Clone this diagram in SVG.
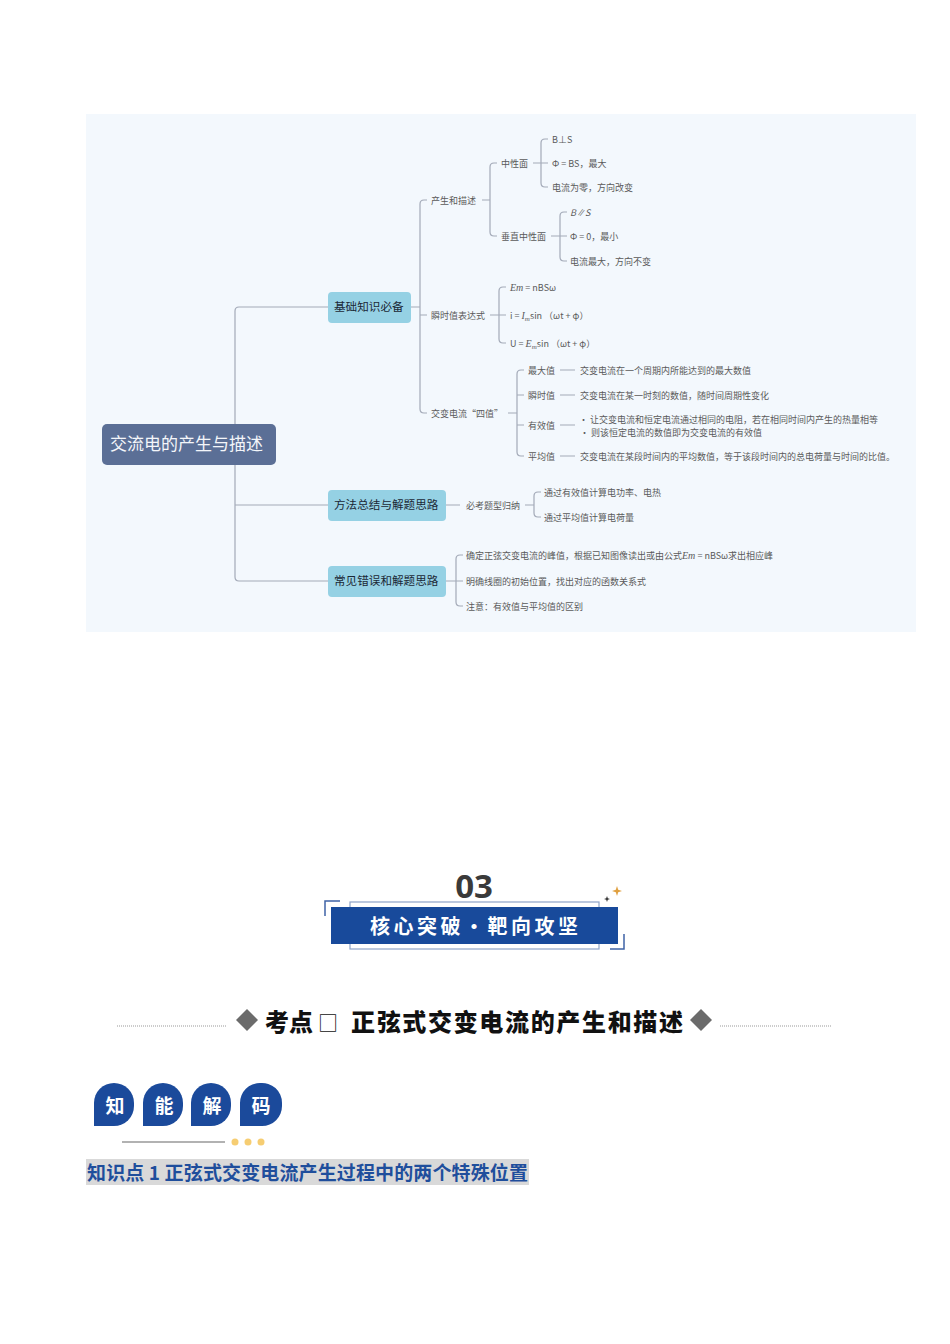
<svg xmlns="http://www.w3.org/2000/svg" width="950" height="1344" viewBox="0 0 950 1344">
<style>
.t{font-family:"Noto Sans CJK SC","Noto Sans",sans-serif;font-size:9px;fill:#5a5a5a}
.m{font-family:"Liberation Serif",serif;font-style:italic}
.ln{fill:none;stroke:#a3aab8;stroke-width:1.2}
.nd{fill:#95d1e4}
.nt{font-family:"Noto Sans CJK SC","Noto Sans",sans-serif;font-size:11.6px;fill:#1b2836}
.bd{fill:#1b4a9b}
.bt{font-family:"Noto Sans CJK SC",sans-serif;font-size:19px;font-weight:700;fill:#fff;text-anchor:middle}
</style>
<rect x="0" y="0" width="950" height="1344" fill="#fff"/>
<rect x="86" y="114" width="830" height="518" fill="#f3f8fd"/>

<g id="connectors">
<path class="ln" d="M328 307H239Q235 307 235 311V577Q235 581 239 581H328M235 505H328"/>
<path class="ln" d="M411 307H420M427 200H424Q420 200 420 204V409Q420 413 424 413H427M420 315H427"/>
<path class="ln" d="M482 200H490M497 163H494Q490 163 490 167V232Q490 236 494 236H497"/>
<path class="ln" d="M533 163H541M548 139H545Q541 139 541 143V183Q541 187 545 187H548M541 163H548"/>
<path class="ln" d="M551 236H560M567 212H564Q560 212 560 216V257Q560 261 564 261H567M560 236H567"/>
<path class="ln" d="M490 315H499M506 287H503Q499 287 499 291V339Q499 343 503 343H506M499 315H506"/>
<path class="ln" d="M508 413H517M524 370H521Q517 370 517 374V452Q517 456 521 456H524M517 395H524M517 425H524"/>
<path class="ln" d="M560 370H575M560 395H575M560 425H575M560 456H575"/>
<path class="ln" d="M446 505H460M525 505H534M541 492H538Q534 492 534 496V513Q534 517 538 517H541"/>
<path class="ln" d="M446 581H456M463 555H460Q456 555 456 559V602Q456 606 460 606H463M456 581H463"/>
</g>

<g id="root">
<rect x="102" y="424" width="174" height="41" rx="5" fill="#5b6f96"/>
<text x="110" y="450" font-family="Noto Sans CJK SC,sans-serif" font-size="17" fill="#f4f6fa">交流电的产生与描述</text>
</g>
<g id="n-jichu">
<rect class="nd" x="328" y="292" width="83" height="31" rx="4"/>
<text class="nt" x="334" y="311">基础知识必备</text>
</g>
<g id="n-fangfa">
<rect class="nd" x="328" y="490" width="118" height="31" rx="4"/>
<text class="nt" x="334" y="509">方法总结与解题思路</text>
</g>
<g id="n-cuowu">
<rect class="nd" x="328" y="566" width="118" height="31" rx="4"/>
<text class="nt" x="334" y="585">常见错误和解题思路</text>
</g>

<g id="n-chansheng"><text class="t" x="431" y="204">产生和描述</text></g>
<g id="n-zhongxing"><text class="t" x="501" y="167">中性面</text></g>
<g id="n-bps"><text class="t" x="552" y="143">B⊥S</text></g>
<g id="n-phibs"><text class="t" x="552" y="167">Φ = BS，最大</text></g>
<g id="n-dlwl"><text class="t" x="552" y="191">电流为零，方向改变</text></g>
<g id="n-chuizhi"><text class="t" x="501" y="240">垂直中性面</text></g>
<g id="n-bs"><text class="t" x="570" y="216" font-style="italic">B∥S</text></g>
<g id="n-phi0"><text class="t" x="570" y="240">Φ = 0，最小</text></g>
<g id="n-dlzd"><text class="t" x="570" y="265">电流最大，方向不变</text></g>

<g id="n-shunshi"><text class="t" x="431" y="319">瞬时值表达式</text></g>
<g id="n-em"><text class="t" x="510" y="291"><tspan class="m" font-size="10">Em</tspan> = nBSω</text></g>
<g id="n-i"><text class="t" x="510" y="319">i = <tspan class="m" font-size="10">I</tspan><tspan class="m" font-size="7" dy="2">m</tspan><tspan dy="-2">sin （ωt + φ）</tspan></text></g>
<g id="n-u"><text class="t" x="510" y="347">U = <tspan class="m" font-size="10">E</tspan><tspan class="m" font-size="7" dy="2">m</tspan><tspan dy="-2">sin  （ωt + φ）</tspan></text></g>

<g id="n-sizhi"><text class="t" x="431" y="417">交变电流“四值”</text></g>
<g id="n-zuida"><text class="t" x="528" y="374">最大值</text></g>
<g id="n-zuida-d"><text class="t" x="580" y="374">交变电流在一个周期内所能达到的最大数值</text></g>
<g id="n-shunshizhi"><text class="t" x="528" y="399">瞬时值</text></g>
<g id="n-shunshizhi-d"><text class="t" x="580" y="399">交变电流在某一时刻的数值，随时间周期性变化</text></g>
<g id="n-youxiao"><text class="t" x="528" y="429">有效值</text></g>
<g id="n-youxiao-d"><text class="t" x="579" y="423">·  让交变电流和恒定电流通过相同的电阻，若在相同时间内产生的热量相等</text><text class="t" x="580" y="436">· 则该恒定电流的数值即为交变电流的有效值</text></g>
<g id="n-pingjun"><text class="t" x="528" y="460">平均值</text></g>
<g id="n-pingjun-d"><text class="t" x="580" y="460">交变电流在某段时间内的平均数值，等于该段时间内的总电荷量与时间的比值。</text></g>

<g id="n-bikao"><text class="t" x="466" y="509">必考题型归纳</text></g>
<g id="n-bk1"><text class="t" x="544" y="496">通过有效值计算电功率、电热</text></g>
<g id="n-bk2"><text class="t" x="544" y="521">通过平均值计算电荷量</text></g>
<g id="n-cw1"><text class="t" x="466" y="559">确定正弦交变电流的峰值，根据已知图像读出或由公式<tspan class="m" font-size="10">Em</tspan> = nBSω求出相应峰</text></g>
<g id="n-cw2"><text class="t" x="466" y="585">明确线圈的初始位置，找出对应的函数关系式</text></g>
<g id="n-cw3"><text class="t" x="466" y="610">注意：有效值与平均值的区别</text></g>

<g id="banner">
<text x="474" y="898" text-anchor="middle" font-family="Open Sans,sans-serif" font-weight="700" font-size="33" fill="#3a3a3a">03</text>
<rect x="350" y="902" width="249" height="47" fill="none" stroke="#8ea3c9" stroke-width="1.2"/>
<rect x="331" y="907" width="287" height="37" fill="#184a9b"/>
<path d="M325 916V901H340M610 949H624V934" fill="none" stroke="#3f63a6" stroke-width="1.5"/>
<path d="M617 886L618.2 889.8 622 891 618.2 892.2 617 896 615.8 892.2 612 891 615.8 889.8Z" fill="#e0a040"/>
<path d="M607 896L607.8 898.2 610 899 607.8 899.8 607 902 606.2 899.8 604 899 606.2 898.2Z" fill="#333"/>
<text x="370" y="934" font-family="Noto Sans CJK SC,sans-serif" font-weight="700" font-size="20" letter-spacing="3.5" fill="#fff">核心突破・靶向攻坚</text>
</g>

<g id="heading">
<line x1="117" y1="1026" x2="226" y2="1026" stroke="#999" stroke-width="1" stroke-dasharray="1 1"/>
<line x1="720" y1="1026" x2="831" y2="1026" stroke="#999" stroke-width="1" stroke-dasharray="1 1"/>
<polygon points="247,1009 258,1020 247,1031 236,1020" fill="#6b6b6b"/>
<polygon points="701,1009 712,1020 701,1031 690,1020" fill="#6b6b6b"/>
<text x="265" y="1031" font-family="Noto Sans CJK SC,sans-serif" font-weight="900" font-size="24" fill="#111">考点</text>
<text x="318" y="1031" font-family="Noto Sans CJK SC,sans-serif" font-weight="400" font-size="20" fill="#111">□</text>
<text x="351" y="1031" font-family="Noto Sans CJK SC,sans-serif" font-weight="900" font-size="24" fill="#111" textLength="332">正弦式交变电流的产生和描述</text>
</g>

<g id="badges">
<path class="bd" d="M94 1126V1103A20 20 0 0 1 114 1083A20 20 0 0 1 134 1103V1106A20 20 0 0 1 114 1126Z"/>
<path class="bd" d="M143 1126V1103A20 20 0 0 1 163 1083A20 20 0 0 1 183 1103V1106A20 20 0 0 1 163 1126Z"/>
<path class="bd" d="M191 1126V1103A20 20 0 0 1 211 1083A20 20 0 0 1 231 1103V1106A20 20 0 0 1 211 1126Z"/>
<path class="bd" d="M240 1126V1103A20 20 0 0 1 260 1083A20 20 0 0 1 282 1103V1106A20 20 0 0 1 262 1126Z"/>
<text class="bt" x="115" y="1113">知</text>
<text class="bt" x="164" y="1113">能</text>
<text class="bt" x="212" y="1113">解</text>
<text class="bt" x="261" y="1113">码</text>
<line x1="122" y1="1142" x2="225" y2="1142" stroke="#666" stroke-width="1.2"/>
<circle cx="235" cy="1142" r="3.5" fill="#f6cd72"/>
<circle cx="248" cy="1142" r="3.5" fill="#f6cd72"/>
<circle cx="261" cy="1142" r="3.5" fill="#f6cd72"/>
</g>

<g id="title">
<rect x="86" y="1159" width="443" height="26" fill="#d9d9d9"/>
<text x="87" y="1180" font-family="Noto Sans CJK SC,sans-serif" font-weight="700" font-size="19" fill="#1f4e9c" textLength="441">知识点 1 正弦式交变电流产生过程中的两个特殊位置</text>
</g>
</svg>
